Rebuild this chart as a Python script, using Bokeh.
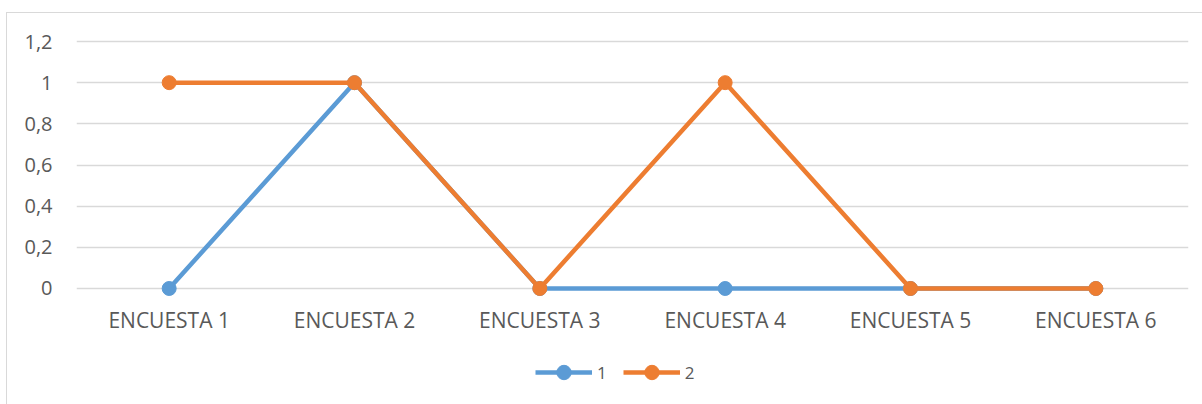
from bokeh.plotting import figure
from bokeh.layouts import column
from bokeh.models import (Range1d, FactorRange, FixedTicker, CustomJSTickFormatter,
                          Legend, LegendItem)
from bokeh.embed import file_html
from bokeh.resources import INLINE

categories = ["ENCUESTA 1", "ENCUESTA 2", "ENCUESTA 3", "ENCUESTA 4", "ENCUESTA 5", "ENCUESTA 6"]
series_1 = [0, 1, 0, 0, 0, 0]
series_2 = [1, 1, 0, 1, 0, 0]
series_names = ["1", "2"]
y_ticks = [0, 0.2, 0.4, 0.6, 0.8, 1.0, 1.2]

BLUE = "#5B9BD5"
ORANGE = "#ED7D31"
FONT = "Open Sans"
TEXT = "#595959"

p = figure(frame_width=1112, frame_height=267, x_range=FactorRange(*categories),
           y_range=Range1d(-0.0486, 1.2486), output_backend="svg", toolbar_location=None,
           min_border_left=69, min_border_right=14, min_border_top=18, min_border_bottom=45)
p.outline_line_color = None
p.background_fill_color = "white"
p.border_fill_color = "white"

p.xgrid.grid_line_color = None
p.ygrid.grid_line_color = "#d9d9d9"
p.ygrid.grid_line_width = 1.3
p.yaxis.ticker = FixedTicker(ticks=y_ticks)
p.yaxis.formatter = CustomJSTickFormatter(code="return (Math.round(tick*10)/10).toString().replace('.', ',');")

for ax in (p.xaxis[0], p.yaxis[0]):
    ax.axis_line_color = None
    ax.major_tick_line_color = None
    ax.minor_tick_line_color = None
    ax.major_tick_out = 0
    ax.major_tick_in = 0
    ax.major_label_text_font = FONT
    ax.major_label_text_color = TEXT
p.xaxis.major_label_text_font_size = "21px"
p.yaxis.major_label_text_font_size = "20px"
p.yaxis.major_label_standoff = 24
p.xaxis.major_label_standoff = 7

p.line(categories, series_1, line_color=BLUE, line_width=4.5)
p.scatter(categories, series_1, size=14, fill_color=BLUE, line_color=BLUE)
p.line(categories, series_2, line_color=ORANGE, line_width=4.5)
p.scatter(categories, series_2, size=14, fill_color=ORANGE, line_color=ORANGE)

# legend panel (dummy renderers kept outside the visible range)
pl = figure(width=1195, height=61, output_backend="svg", toolbar_location=None,
            x_range=FactorRange(*categories), y_range=Range1d(5, 6),
            x_axis_type=None, y_axis_type=None, min_border=0)
pl.outline_line_color = None
pl.grid.visible = False
pl.border_fill_color = "white"
pl.background_fill_color = "white"
ll1 = pl.line(categories, series_1, line_color=BLUE, line_width=4.5)
ls1 = pl.scatter(categories, series_1, size=14, fill_color=BLUE, line_color=BLUE)
ll2 = pl.line(categories, series_2, line_color=ORANGE, line_width=4.5)
ls2 = pl.scatter(categories, series_2, size=14, fill_color=ORANGE, line_color=ORANGE)
legend = Legend(items=[LegendItem(label=series_names[0], renderers=[ll1, ls1]),
                       LegendItem(label=series_names[1], renderers=[ll2, ls2])],
                orientation="horizontal", location=(459, 14),
                label_text_font=FONT, label_text_font_size="17px", label_text_color=TEXT,
                glyph_width=57, glyph_height=36, label_standoff=5, label_width=0, spacing=16,
                border_line_color=None, background_fill_alpha=0, margin=0, padding=0)
pl.add_layout(legend)

layout = column(p, pl, spacing=0)
layout.styles = {"margin-left": "6px", "margin-top": "12px",
                 "border-left": "1px solid #d9d9d9", "border-top": "1px solid #d9d9d9"}

open("out.html", "w").write(file_html(layout, INLINE))
